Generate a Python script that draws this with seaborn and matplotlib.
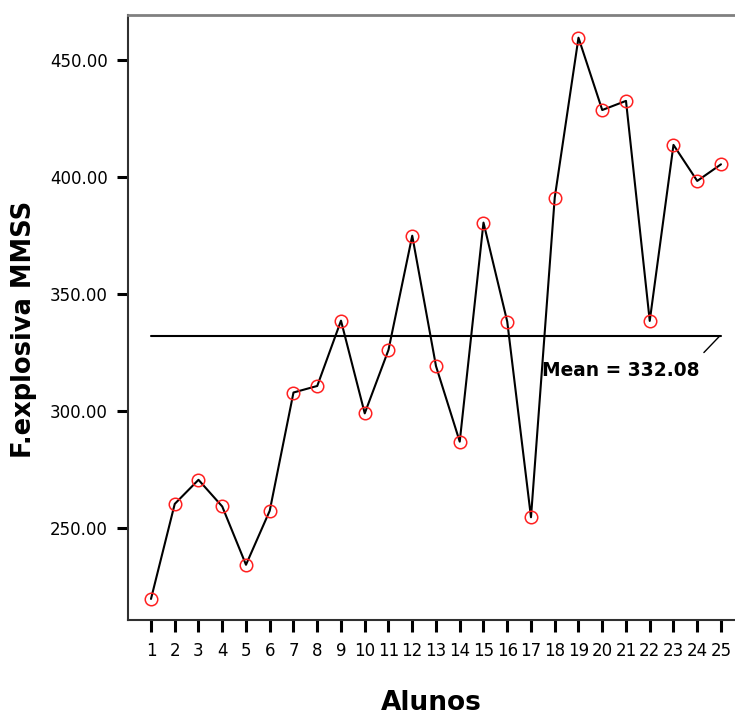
import matplotlib
matplotlib.use("Agg")
import matplotlib.pyplot as plt
import seaborn as sns
import pandas as pd

# ---- data ----
alunos = list(range(1, 26))
f_explosiva = [219.7, 260.3, 270.6, 259.2, 234.3, 257.4, 307.9, 310.7, 338.6, 299.0,
               326.1, 374.9, 319.2, 286.9, 380.5, 338.2, 254.6, 391.2, 459.5, 428.6,
               432.5, 338.5, 413.7, 398.3, 405.4]
mean_value = 332.08
y_ticks = [250, 300, 350, 400, 450]
x_label = "Alunos"
y_label = "F.explosiva MMSS"

df = pd.DataFrame({"Alunos": alunos, "F": f_explosiva})

sns.set_style("white")
plt.rcParams["font.family"] = ["DejaVu Sans"]
plt.rcParams["text.color"] = "black"
plt.rcParams["axes.labelcolor"] = "black"

fig = plt.figure(figsize=(7.35, 7.15), dpi=100)
ax = fig.add_axes([128 / 735, 1 - 620 / 715, 1 - 128 / 735, (620 - 15) / 715])

sns.lineplot(data=df, x="Alunos", y="F", ax=ax, color="black", linewidth=1.5,
             marker="o", markersize=9, markerfacecolor="none",
             markeredgecolor="#ff2020", markeredgewidth=1.1, zorder=3)

# mean line
ax.plot([alunos[0], alunos[-1]], [mean_value, mean_value], color="black", lw=1.5, zorder=2)
ax.plot([alunos[-1] - 0.05, alunos[-1] - 0.72], [mean_value, mean_value - 7.1],
        color="black", lw=1.0, zorder=2)
ax.text(17.46, mean_value - 14.8, f"Mean = {mean_value:.2f}", fontsize=13.4,
        fontweight="bold", ha="left", va="center", color="black")

ax.set_xlim(0.032, 25.59)
ax.set_ylim(210.7, 469.2)
ax.set_xticks(alunos)
ax.set_xticklabels([str(a) for a in alunos])
ax.set_yticks(y_ticks)
ax.set_yticklabels([f"{v:.2f}" for v in y_ticks])

ax.tick_params(axis="x", direction="out", length=8.6, width=2.2, pad=7,
               labelsize=12, colors="black", bottom=True)
ax.tick_params(axis="y", direction="out", length=8, width=2.2, pad=6.5,
               labelsize=12, colors="black", left=True)

ax.set_xlabel(x_label, fontsize=19, fontweight="bold", labelpad=22, color="black")
ax.set_ylabel(y_label, fontsize=18.5, fontweight="bold", color="black")
ax.yaxis.set_label_coords((24 - 128) / 607, (620 - 329) / 605)
ax.yaxis.label.set_va("center")

ax.spines["top"].set_color("#808080")
ax.spines["top"].set_linewidth(2)
ax.spines["left"].set_color("#303030")
ax.spines["left"].set_linewidth(1.5)
ax.spines["bottom"].set_color("#303030")
ax.spines["bottom"].set_linewidth(1.5)
ax.spines["right"].set_visible(False)

fig.savefig("out.png", dpi=100)
